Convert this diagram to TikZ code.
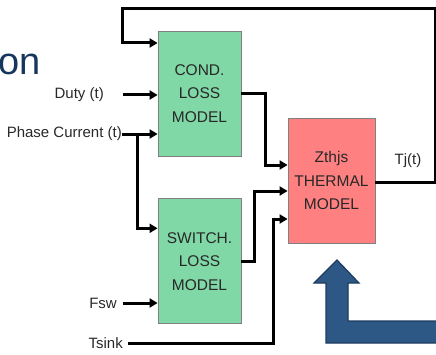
\documentclass[tikz,border=0pt]{standalone}
\usepackage{fontspec}
\setmainfont{Liberation Sans}
\usetikzlibrary{arrows.meta, positioning}
\definecolor{lossgreen}{RGB}{128,216,166}
\definecolor{thermred}{RGB}{255,128,128}
\definecolor{blkline}{RGB}{128,128,128}
\definecolor{titleblue}{RGB}{23,54,93}
\definecolor{bigfill}{RGB}{45,88,133}
\definecolor{bigline}{RGB}{30,60,95}
\definecolor{txtgray}{RGB}{40,40,40}

\begin{document}
\begin{tikzpicture}[
    x=1pt, y=1pt,
    node distance=42pt,
    every node/.style={font=\fontsize{15}{18}\selectfont, text=txtgray},
    lossblk/.style={draw=blkline, line width=0.8pt, fill=lossgreen, minimum width=83pt, minimum height=125pt, align=center, inner sep=0pt, font=\fontsize{15.5}{23.5}\selectfont},
    thermblk/.style={lossblk, fill=thermred, minimum width=87pt},
    lbl/.style={inner sep=0pt},
    ar/.style={-{Triangle[length=8pt, width=9pt]}, line width=3pt},
    bigarrow/.style={draw=bigline, line width=1.2pt, fill=bigfill}
]
\useasboundingbox (0,0) rectangle (436,354);
% title fragment, cut at the left edge
\node[anchor=base west, inner sep=0pt, text=titleblue, font=\fontsize{38}{38}\selectfont] (title) at (-1.5,279) {on};
% blocks
\node[lossblk] (cond) at (199.5,260.5) {COND.\\LOSS\\MODEL};
\node[lossblk, below=of cond] (switch) {SWITCH.\\LOSS\\MODEL};
\node[thermblk] (therm) at (331.5,173.5) {Zthjs\\THERMAL\\MODEL};
% free ends of the inputs
\coordinate (dutyin) at (123,259);
\coordinate (phasein) at (122,220);
\coordinate (split) at (137,220);
\coordinate (fswin) at (123,51);
\coordinate (tsinkin) at (128,11);
\coordinate (fbright) at (435,345);
\coordinate (fbleft) at (122,345);
% input labels
\node[lbl, left=19pt of dutyin] (duty) {Duty (t)};
\node[lbl, left=0pt of phasein] (phase) {Phase Current (t)};
\node[lbl, left=6pt of fswin] (fsw) {Fsw};
\node[lbl, left=5pt of tsinkin] (tsink) {Tsink};
\node[lbl] (tj) at (408,193) {Tj(t)};
% inputs to the loss models
\draw[ar] (dutyin) -- (dutyin -| cond.west);
\draw[ar] (phasein) -- (phasein -| cond.west);
\draw[ar] (split) |- ([yshift=33pt]switch.west);
\draw[ar] (fswin) -- (fswin -| switch.west);
% losses and sink temperature into the thermal model
\draw[ar] (cond.east) -- ++(24pt,0) |- ([yshift=15.5pt]therm.west);
\draw[ar] (switch.east) -- ++(13pt,0) |- ([yshift=-10.5pt]therm.west);
\draw[ar] (tsinkin) -- ++(145pt,0) |- ([yshift=-38.5pt]therm.west);
% Tj feedback back to the conduction model
\draw[ar] ([yshift=-1.5pt]therm.east) -| (fbright) -- (fbleft) |- ([yshift=50.5pt]cond.west);
% big arrow
\draw[bigarrow] (337,94) -- (359,71) -- (348,71) -- (348,33) -- (440,33) -- (440,11)
    -- (326,11) -- (326,71) -- (314,71) -- cycle;
\end{tikzpicture}
\end{document}
